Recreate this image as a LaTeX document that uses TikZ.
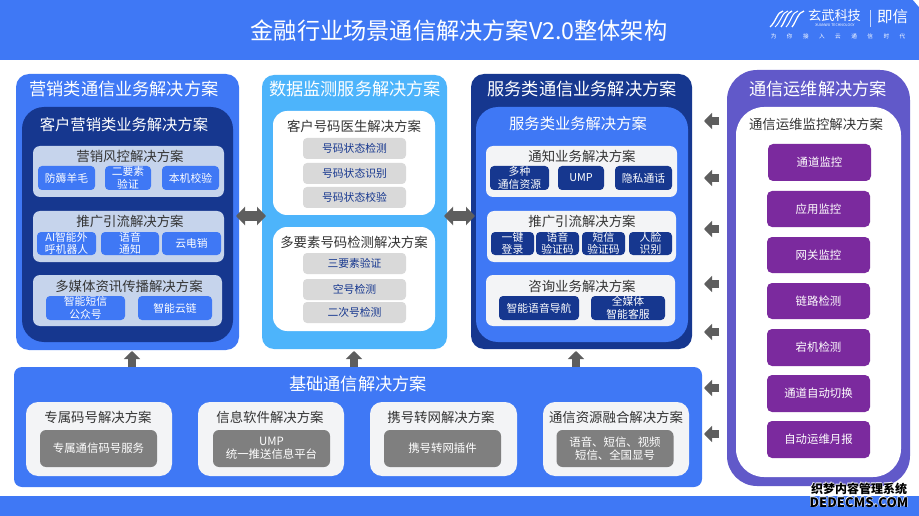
\documentclass[tikz,border=0pt]{standalone}
\usepackage{fontspec}
\setmainfont{Noto Sans CJK SC}
\usetikzlibrary{arrows.meta,fit}
\definecolor{mainblue}{HTML}{3F78F5}
\definecolor{navy}{HTML}{16378F}
\definecolor{skyblue}{HTML}{4DB4FB}
\definecolor{paleblue}{HTML}{C6D4EC}
\definecolor{opspurple}{HTML}{6159C9}
\definecolor{chippurple}{HTML}{7B2A9E}
\definecolor{chipgray}{HTML}{7F7F7F}
\definecolor{softgray}{HTML}{D9D9D9}
\definecolor{cardgray}{HTML}{F3F4F6}
\definecolor{arrowgray}{HTML}{5E5E5E}
\definecolor{inktext}{HTML}{333333}
\begin{document}
\begin{tikzpicture}[x=1pt,y=-1pt,>={Triangle[length=8pt,width=16pt]},
  panel/.style={inner sep=0pt,outer sep=0pt,rounded corners=#1},
  bigtitle/.style={white,font=\fontsize{17.2}{20}\selectfont},
  subtitle/.style={font=\fontsize{15.3}{18}\selectfont},
  cardtitle/.style={inktext,font=\fontsize{13.4}{16}\selectfont},
  chip/.style={rounded corners=4pt,inner sep=0pt,align=center,minimum height=24pt,
    font=\fontsize{10.8}{12.6}\selectfont},
  bluechip/.style={chip,fill=mainblue,text=white},
  navychip/.style={chip,fill=navy,text=white},
  softchip/.style={chip,fill=softgray,text=navy,minimum width=103pt,minimum height=21pt},
  opschip/.style={chip,fill=chippurple,text=white,minimum width=103pt,minimum height=37pt,rounded corners=5pt,
    font=\fontsize{11.4}{13}\selectfont},
  graychip/.style={chip,fill=chipgray,text=white,minimum width=117pt,minimum height=37pt,rounded corners=6pt,
    font=\fontsize{11.4}{13.4}\selectfont},
  sidearrow/.style={arrowgray,line width=8pt,shorten <=8pt},
  uparrow/.style={arrowgray,line width=8pt},
  twoarrow/.style={arrowgray,line width=9pt,>={Triangle[length=9pt,width=18pt]},shorten <=-3pt,shorten >=-4pt}]
  \useasboundingbox (0,0) rectangle (919,516);

  % Header and footer bands
  \fill[mainblue] (0,0) rectangle (919,60);
  \fill[mainblue] (0,496) rectangle (919,516);
  \fill[white] (913,0) -- (919,0) -- (919,7) -- cycle;
  \node[white,font=\fontsize{23.2}{26}\selectfont] (maintitle) at (459,31) {金融行业场景通信解决方案V2.0整体架构};

  % Logo, top right
  \draw[white,line width=1.3pt] (770,27) .. controls (776,22) and (777,12) .. (783,11);
  \draw[white,line width=1pt] (775,27) .. controls (781,22) and (782,12) .. (788,11);
  \draw[white,line width=1.3pt] (781,27) .. controls (785,22) and (787,12) .. (792,11);
  \draw[white,line width=1pt] (786,27) .. controls (791,22) and (792,12) .. (798,11);
  \draw[white,line width=1.3pt] (792,27) .. controls (796,22) and (798,12) .. (804,11);
  \node[white,font=\fontsize{13.2}{15}\selectfont] (xuanwu) at (834.5,15.5) {玄武科技};
  \node[white,font=\fontsize{3.6}{4}\selectfont] (xwen) at (835,25) {XUANWU TECHNOLOGY};
  \draw[white!70!mainblue] (870,10) -- (870,27);
  \node[white,font=\fontsize{15.5}{18}\selectfont] (jixin) at (892.5,17) {即信};
  \node[white,font=\fontsize{5.6}{7}\selectfont] (slogan) at (838,36) {为\hspace{10.5pt}你\hspace{10.5pt}接\hspace{10.5pt}入\hspace{10.5pt}云\hspace{10.5pt}通\hspace{10.5pt}信\hspace{10.5pt}时\hspace{10.5pt}代};

  % Marketing column
  \node[panel=13pt,fill=mainblue,fit={(16,74) (239,350)}] (yingxiao) {};
  \node[bigtitle] (yxtitle) at (124,89) {营销类通信业务解决方案};
  \node[panel=22pt,fill=navy,fit={(22,107) (233,342)}] (khyx) {};
  \node[subtitle,white] (khtitle) at (124,125) {客户营销类业务解决方案};
  \node[panel=7pt,fill=paleblue,fit={(33,146) (224,197)}] (fengkong) {};
  \node[cardtitle] at (130,156) {营销风控解决方案};
  \node[bluechip,minimum width=57pt] (fanghao) at (66.5,178) {防薅羊毛};
  \node[bluechip,minimum width=46pt] (sanys) at (128,178) {二要素\\验证};
  \node[bluechip,minimum width=57pt] (benji) at (190.5,178) {本机校验};
  \node[panel=7pt,fill=paleblue,fit={(33,211) (224,262)}] (tuiguanga) {};
  \node[cardtitle] at (130,221) {推广引流解决方案};
  \node[bluechip,minimum width=59pt,minimum height=23pt] (aiwh) at (66.5,243.5) {AI智能外\\呼机器人};
  \node[bluechip,minimum width=58pt,minimum height=23pt] (yytz) at (130,243.5) {语音\\通知};
  \node[bluechip,minimum width=59pt,minimum height=23pt] (ydx) at (191.5,243.5) {云电销};
  \node[panel=7pt,fill=paleblue,fit={(33,275) (222,326)}] (duomeiti) {};
  \node[cardtitle] at (129,286) {多媒体资讯传播解决方案};
  \node[bluechip,minimum width=79pt] (zndx) at (85.5,308) {智能短信\\公众号};
  \node[bluechip,minimum width=74pt] (znyl) at (175,308) {智能云链};

  % Data monitoring column
  \node[panel=12pt,fill=skyblue,fit={(262,75) (447,349)}] (shuju) {};
  \node[bigtitle] (sjtitle) at (355,89) {数据监测服务解决方案};
  \node[panel=14pt,fill=white,fit={(273,111) (435,215)}] (yisheng) {};
  \node[cardtitle] at (354,126) {客户号码医生解决方案};
  \node[softchip] (zta) at (354.5,148.5) {号码状态检测};
  \node[softchip] (ztb) at (354.5,173.5) {号码状态识别};
  \node[softchip] (ztc) at (354.5,197.5) {号码状态校验};
  \node[panel=14pt,fill=white,fit={(273,227) (435,331)}] (duoys) {};
  \node[cardtitle] at (354,242) {多要素号码检测解决方案};
  \node[softchip] (dya) at (354.5,263.5) {三要素验证};
  \node[softchip] (dyb) at (354.5,289.5) {空号检测};
  \node[softchip] (dyc) at (354.5,312.5) {二次号检测};

  % Service column
  \node[panel=13pt,fill=navy,fit={(471,74) (692,349)}] (fuwu) {};
  \node[bigtitle] (fwtitle) at (582,89) {服务类通信业务解决方案};
  \node[panel=22pt,fill=mainblue,fit={(476,107) (688,342)}] (fwyw) {};
  \node[subtitle,white] (fwsub) at (578,124) {服务类业务解决方案};
  \node[panel=7pt,fill=cardgray,fit={(486,146) (677,197)}] (tongzhi) {};
  \node[cardtitle] at (582,156) {通知业务解决方案};
  \node[navychip,minimum width=59pt] (duozhong) at (519.5,178) {多种\\通信资源};
  \node[navychip,minimum width=46pt] (umpa) at (581,178) {UMP};
  \node[navychip,minimum width=57pt] (yinsi) at (643.5,178) {隐私通话};
  \node[panel=7pt,fill=cardgray,fit={(487,211) (676,262)}] (tuiguangb) {};
  \node[cardtitle] at (582,221) {推广引流解决方案};
  \node[navychip,minimum width=43pt,minimum height=23pt] (yijian) at (512.5,243.5) {一键\\登录};
  \node[navychip,minimum width=43pt,minimum height=23pt] (yyyz) at (557.5,243.5) {语音\\验证码};
  \node[navychip,minimum width=43pt,minimum height=23pt] (dxyz) at (603.5,243.5) {短信\\验证码};
  \node[navychip,minimum width=43pt,minimum height=23pt] (renlian) at (650.5,243.5) {人脸\\识别};
  \node[panel=7pt,fill=cardgray,fit={(486,275) (675,326)}] (zixun) {};
  \node[cardtitle] at (582,286) {咨询业务解决方案};
  \node[navychip,minimum width=80pt] (zndh) at (539,308) {智能语音导航};
  \node[navychip,minimum width=74pt] (qmt) at (628,308) {全媒体\\智能客服};

  % Operations column
  \node[panel=30pt,fill=opspurple,fit={(727,70) (910,486)}] (yunwei) {};
  \node[bigtitle] (ywtitle) at (818,89) {通信运维解决方案};
  \node[panel=28pt,fill=white,fit={(736,107) (901,477)}] (jiankong) {};
  \node[cardtitle] at (816,124) {通信运维监控解决方案};
  \node[opschip] (opa) at (819.5,162.5) {通道监控};
  \node[opschip,minimum height=36pt] (opb) at (818.5,209) {应用监控};
  \node[opschip,minimum height=36pt] (opc) at (818.5,255) {网关监控};
  \node[opschip,minimum height=36pt] (opd) at (818.5,301) {链路检测};
  \node[opschip] (ope) at (818.5,347.5) {宕机检测};
  \node[opschip] (opf) at (818.5,393.5) {通道自动切换};
  \node[opschip] (opg) at (818.5,439.5) {自动运维月报};

  % Base band
  \node[panel=8pt,fill=mainblue,fit={(14,367) (702,487)}] (jichu) {};
  \node[bigtitle] (jctitle) at (358,384) {基础通信解决方案};
  \node[panel=12pt,fill=cardgray,fit={(26,402) (172,476)}] (zhuanshu) {};
  \node[cardtitle] at (98,417) {专属码号解决方案};
  \node[graychip] (zsfw) at (98.5,448.5) {专属通信码号服务};
  \node[panel=12pt,fill=cardgray,fit={(198,402) (344,476)}] (xinxi) {};
  \node[cardtitle] at (270,417) {信息软件解决方案};
  \node[graychip] (umpb) at (271.5,448.5) {UMP\\统一推送信息平台};
  \node[panel=12pt,fill=cardgray,fit={(370,402) (517,476)}] (xiehao) {};
  \node[cardtitle] at (441,417) {携号转网解决方案};
  \node[graychip] (xhcj) at (442.5,448.5) {携号转网插件};
  \node[panel=12pt,fill=cardgray,fit={(543,402) (689,476)}] (ronghe) {};
  \node[cardtitle] at (616,417) {通信资源融合解决方案};
  \node[graychip] (zyrh) at (615,448.5) {语音、短信、视频\\短信、全国显号};

  % Arrow ends
  \coordinate (la) at (704,121);
  \coordinate (lb) at (704,178);
  \coordinate (lc) at (704,229);
  \coordinate (ld) at (704,284);
  \coordinate (le) at (704,332);
  \coordinate (lf) at (704,388);
  \coordinate (lg) at (704,434);
  \coordinate (ua) at (132,351);
  \coordinate (ub) at (354,351);
  \coordinate (uc) at (576,351);
  \coordinate (mid) at (355,216);

  % Block arrows
  \draw[sidearrow,->] (yunwei.west |- la) -- (la);
  \draw[sidearrow,->] (yunwei.west |- lb) -- (lb);
  \draw[sidearrow,->] (yunwei.west |- lc) -- (lc);
  \draw[sidearrow,->] (yunwei.west |- ld) -- (ld);
  \draw[sidearrow,->] (yunwei.west |- le) -- (le);
  \draw[sidearrow,->] (yunwei.west |- lf) -- (lf);
  \draw[sidearrow,->] (yunwei.west |- lg) -- (lg);
  \draw[uparrow,->] (jichu.north -| ua) -- (ua);
  \draw[uparrow,->] (jichu.north -| ub) -- (ub);
  \draw[uparrow,->] (jichu.north -| uc) -- (uc);
  \draw[twoarrow,<->] (yingxiao.east |- mid) -- (shuju.west |- mid);
  \draw[twoarrow,<->] (shuju.east |- mid) -- (fuwu.west |- mid);

  % Watermark, bottom right
  \node[white,align=center,font=\bfseries\fontsize{12}{14}\selectfont] at (859.5,495.5) {织梦内容管理系统\\{\fontsize{13.1}{14}\selectfont DEDECMS.COM}};
  \node[white,align=center,font=\bfseries\fontsize{12}{14}\selectfont] at (858.5,494.5) {织梦内容管理系统\\{\fontsize{13.1}{14}\selectfont DEDECMS.COM}};
  \node[black,align=center,font=\bfseries\fontsize{12}{14}\selectfont] (watermark) at (859,495) {织梦内容管理系统\\{\fontsize{13.1}{14}\selectfont DEDECMS.COM}};
\end{tikzpicture}
\end{document}
